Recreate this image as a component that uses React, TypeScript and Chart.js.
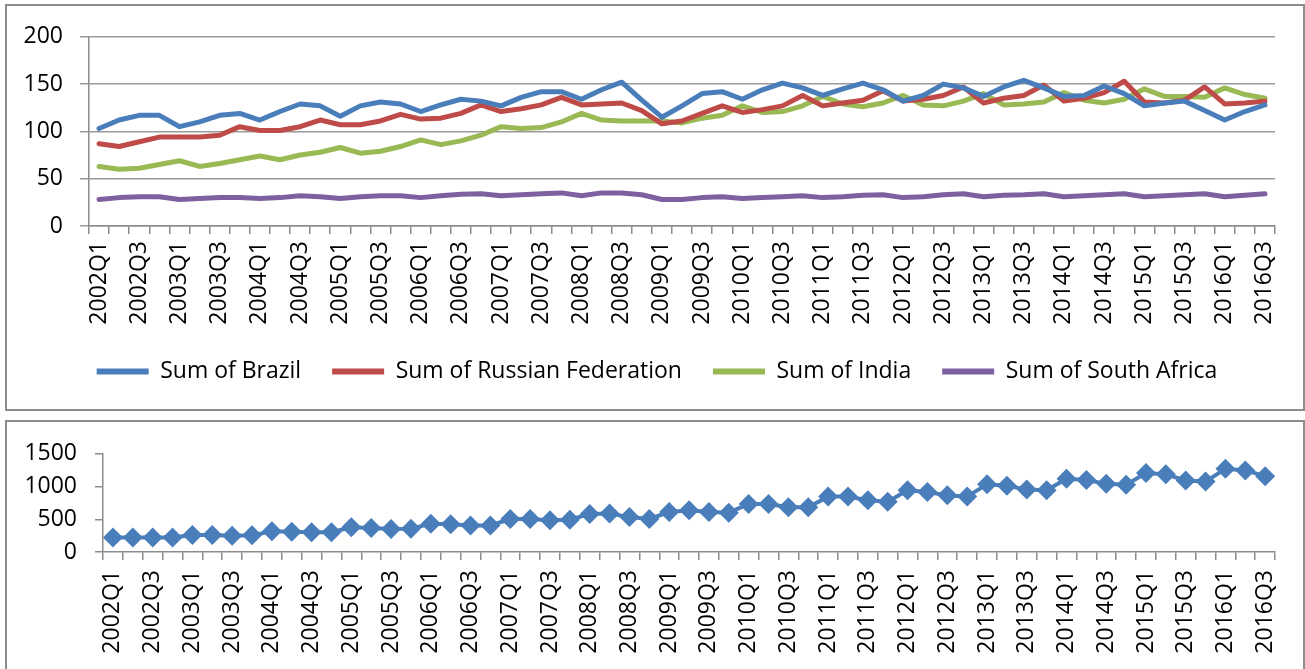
import { useEffect, useRef } from 'react';
import { Chart, registerables } from 'chart.js';

Chart.register(...registerables);

const quarters = [
  '2002Q1', '2002Q2', '2002Q3', '2002Q4',
  '2003Q1', '2003Q2', '2003Q3', '2003Q4',
  '2004Q1', '2004Q2', '2004Q3', '2004Q4',
  '2005Q1', '2005Q2', '2005Q3', '2005Q4',
  '2006Q1', '2006Q2', '2006Q3', '2006Q4',
  '2007Q1', '2007Q2', '2007Q3', '2007Q4',
  '2008Q1', '2008Q2', '2008Q3', '2008Q4',
  '2009Q1', '2009Q2', '2009Q3', '2009Q4',
  '2010Q1', '2010Q2', '2010Q3', '2010Q4',
  '2011Q1', '2011Q2', '2011Q3', '2011Q4',
  '2012Q1', '2012Q2', '2012Q3', '2012Q4',
  '2013Q1', '2013Q2', '2013Q3', '2013Q4',
  '2014Q1', '2014Q2', '2014Q3', '2014Q4',
  '2015Q1', '2015Q2', '2015Q3', '2015Q4',
  '2016Q1', '2016Q2', '2016Q3',
];

const brazil = [
  103, 112, 117, 117, 105, 110, 117, 119, 112, 121, 129, 127, 116, 127, 131,
  129, 121, 128, 134, 132, 127, 136, 142, 142, 134, 144, 152, 133, 115, 127,
  140, 142, 134, 144, 151, 146, 138, 145, 151, 144, 132, 138, 150, 146, 137,
  147, 154, 146, 137, 138, 148, 140, 127, 130, 132, 122, 112, 121, 128,
];

const russia = [
  87, 84, 89, 94, 94, 94, 96, 105, 101, 101, 105, 112, 107, 107, 111,
  118, 113, 114, 119, 128, 121, 124, 128, 136, 128, 129, 130, 122, 108, 111,
  119, 127, 120, 123, 127, 138, 127, 130, 133, 143, 132, 134, 138, 147, 130,
  135, 138, 149, 132, 135, 141, 153, 131, 130, 133, 147, 129, 130, 132,
];

const india = [
  63, 60, 61, 65, 69, 63, 66, 70, 74, 70, 75, 78, 83, 77, 79,
  84, 91, 86, 90, 96, 105, 103, 104, 110, 119, 112, 111, 111, 111, 109,
  114, 117, 127, 120, 121, 127, 137, 129, 126, 130, 138, 128, 127, 132, 140,
  128, 129, 131, 141, 133, 130, 134, 145, 137, 137, 136, 146, 139, 135,
];

const southAfrica = [
  28, 30, 31, 31, 28, 29, 30, 30, 29, 30, 32, 31, 29, 31, 32,
  32, 30, 32, 33.5, 34, 32, 33, 34, 35, 32, 35, 35, 33, 28, 28,
  30, 31, 29, 30, 31, 32, 30, 31, 32.5, 33, 30, 31, 33, 34, 31,
  32.5, 33, 34, 31, 32, 33, 34, 31, 32, 33, 34, 31, 32.5, 34,
];

const total = [
  220, 220, 220, 220, 259, 259, 249, 254, 318, 308, 303, 303, 377, 366, 352,
  357, 430, 425, 406, 406, 504, 504, 486, 494, 582, 587, 533, 504, 611, 636,
  611, 601, 733, 733, 684, 684, 846, 846, 790, 768, 944, 915, 865, 846, 1036,
  1012, 953, 944, 1120, 1100, 1041, 1026, 1208, 1188, 1091, 1076, 1271, 1246, 1158,
];

const topTicks = [0, 50, 100, 150, 200];
const bottomTicks = [0, 500, 1000, 1500];

const FONT = "'Open Sans', 'Liberation Sans', sans-serif";
const FONT_SIZE = 23;
const AXIS_GREY = '#8c8c8c';
const GRID_GREY = '#9a9a9a';

const everyOther = (_v: unknown, idx: number) => (idx % 2 === 0 ? quarters[idx] : '');
const plainNumber = (v: unknown) => String(v);

// Centres the legend row on the whole canvas instead of the padded layout area.
const legendShift = {
  id: 'legendShift',
  beforeDraw(chart: any) {
    const lg = chart.legend;
    if (lg && !lg._shifted) {
      lg.left += 16;
      lg.right += 16;
      lg._shifted = true;
    }
  },
};

function TopChart() {
  const ref = useRef<HTMLCanvasElement | null>(null);
  useEffect(() => {
    if (!ref.current) return;
    const series = [
      { label: 'Sum of Brazil', data: brazil, color: '#4a7ebb' },
      { label: 'Sum of Russian Federation', data: russia, color: '#be4b48' },
      { label: 'Sum of India', data: india, color: '#98b954' },
      { label: 'Sum of South Africa', data: southAfrica, color: '#7d60a0' },
    ];
    const chart = new Chart(ref.current, {
      type: 'line',
      data: {
        labels: quarters,
        datasets: series.map((s) => ({
          label: s.label,
          data: s.data,
          borderColor: s.color,
          backgroundColor: s.color,
          borderWidth: 5,
          borderCapStyle: 'round' as const,
          borderJoinStyle: 'round' as const,
          pointRadius: 0,
          tension: 0,
        })),
      },
      plugins: [legendShift],
      options: {
        responsive: false,
        animation: false,
        devicePixelRatio: 1,
        layout: { padding: { left: 0, right: 28, top: 28, bottom: 16 } },
        plugins: {
          tooltip: { enabled: false },
          legend: {
            position: 'bottom',
            labels: {
              font: { family: FONT, size: FONT_SIZE },
              color: '#000',
              boxWidth: 52,
              boxHeight: 6,
              padding: 31,
              generateLabels: (c: any) =>
                c.data.datasets.map((ds: any, i: number) => ({
                  text: ds.label,
                  fillStyle: ds.borderColor,
                  strokeStyle: ds.borderColor,
                  lineWidth: 0,
                  hidden: false,
                  datasetIndex: i,
                  fontColor: '#000',
                })),
            },
          },
        },
        scales: {
          x: {
            offset: true,
            grid: {
              offset: true,
              drawOnChartArea: false,
              drawTicks: true,
              tickLength: 8,
              color: AXIS_GREY,
              lineWidth: 1.5,
            },
            border: { display: true, color: AXIS_GREY, width: 1.5 },
            ticks: {
              autoSkip: false,
              maxRotation: 90,
              minRotation: 90,
              padding: 7,
              color: '#000',
              font: { family: FONT, size: FONT_SIZE },
              callback: everyOther,
            },
            afterFit: (scale: any) => {
              scale.height = 103;
            },
          },
          y: {
            min: 0,
            max: 200,
            afterBuildTicks: (scale: any) => {
              scale.ticks = topTicks.map((v) => ({ value: v }));
            },
            grid: {
              color: GRID_GREY,
              lineWidth: 1.5,
              tickLength: 9,
              drawTicks: true,
            },
            border: { display: true, color: AXIS_GREY, width: 1.5 },
            ticks: {
              padding: 17,
              color: '#000',
              font: { family: FONT, size: FONT_SIZE },
              callback: plainNumber,
            },
            afterFit: (scale: any) => {
              scale.width = 82;
            },
          },
        },
      },
    });
    return () => chart.destroy();
  }, []);
  return <canvas ref={ref} width={1296} height={403} style={{ display: 'block' }} />;
}

function BottomChart() {
  const ref = useRef<HTMLCanvasElement | null>(null);
  useEffect(() => {
    if (!ref.current) return;
    const chart = new Chart(ref.current, {
      type: 'line',
      data: {
        labels: quarters,
        datasets: [
          {
            label: 'Total',
            data: total,
            borderColor: '#4a7ebb',
            backgroundColor: '#4a7ebb',
            borderWidth: 4,
            pointStyle: 'rectRot',
            pointRadius: 10,
            pointBorderWidth: 0,
            pointBackgroundColor: '#4a7ebb',
            tension: 0,
          },
        ],
      },
      options: {
        responsive: false,
        animation: false,
        devicePixelRatio: 1,
        layout: { padding: { left: 0, right: 27, top: 27, bottom: 0 } },
        plugins: {
          tooltip: { enabled: false },
          legend: { display: false },
        },
        scales: {
          x: {
            offset: true,
            grid: {
              offset: true,
              drawOnChartArea: false,
              drawTicks: true,
              tickLength: 8,
              color: AXIS_GREY,
              lineWidth: 1.5,
            },
            border: { display: true, color: AXIS_GREY, width: 1.5 },
            ticks: {
              autoSkip: false,
              maxRotation: 90,
              minRotation: 90,
              padding: 10,
              color: '#000',
              font: { family: FONT, size: FONT_SIZE },
              callback: everyOther,
            },
            afterFit: (scale: any) => {
              scale.height = 117;
            },
          },
          y: {
            min: 0,
            max: 1500,
            afterBuildTicks: (scale: any) => {
              scale.ticks = bottomTicks.map((v) => ({ value: v }));
            },
            grid: {
              drawOnChartArea: false,
              drawTicks: true,
              tickLength: 8,
              color: AXIS_GREY,
              lineWidth: 1.5,
            },
            border: { display: true, color: AXIS_GREY, width: 1.5 },
            ticks: {
              padding: 18,
              color: '#000',
              font: { family: FONT, size: FONT_SIZE },
              callback: plainNumber,
            },
            afterFit: (scale: any) => {
              scale.width = 96;
            },
          },
        },
      },
    });
    return () => chart.destroy();
  }, []);
  return <canvas ref={ref} width={1296} height={247} style={{ display: 'block' }} />;
}

export default function App() {
  const box: React.CSSProperties = {
    position: 'absolute',
    left: 5,
    width: 1300,
    boxSizing: 'border-box',
    border: `2px solid ${AXIS_GREY}`,
    background: '#fff',
    overflow: 'hidden',
  };
  return (
    <div
      style={{
        position: 'fixed',
        left: 0,
        top: 0,
        width: 1305,
        height: 669,
        background: '#fff',
        overflow: 'hidden',
      }}
    >
      <div style={{ ...box, top: 4, height: 407 }}>
        <TopChart />
      </div>
      <div style={{ ...box, top: 420, height: 256 }}>
        <BottomChart />
      </div>
    </div>
  );
}
